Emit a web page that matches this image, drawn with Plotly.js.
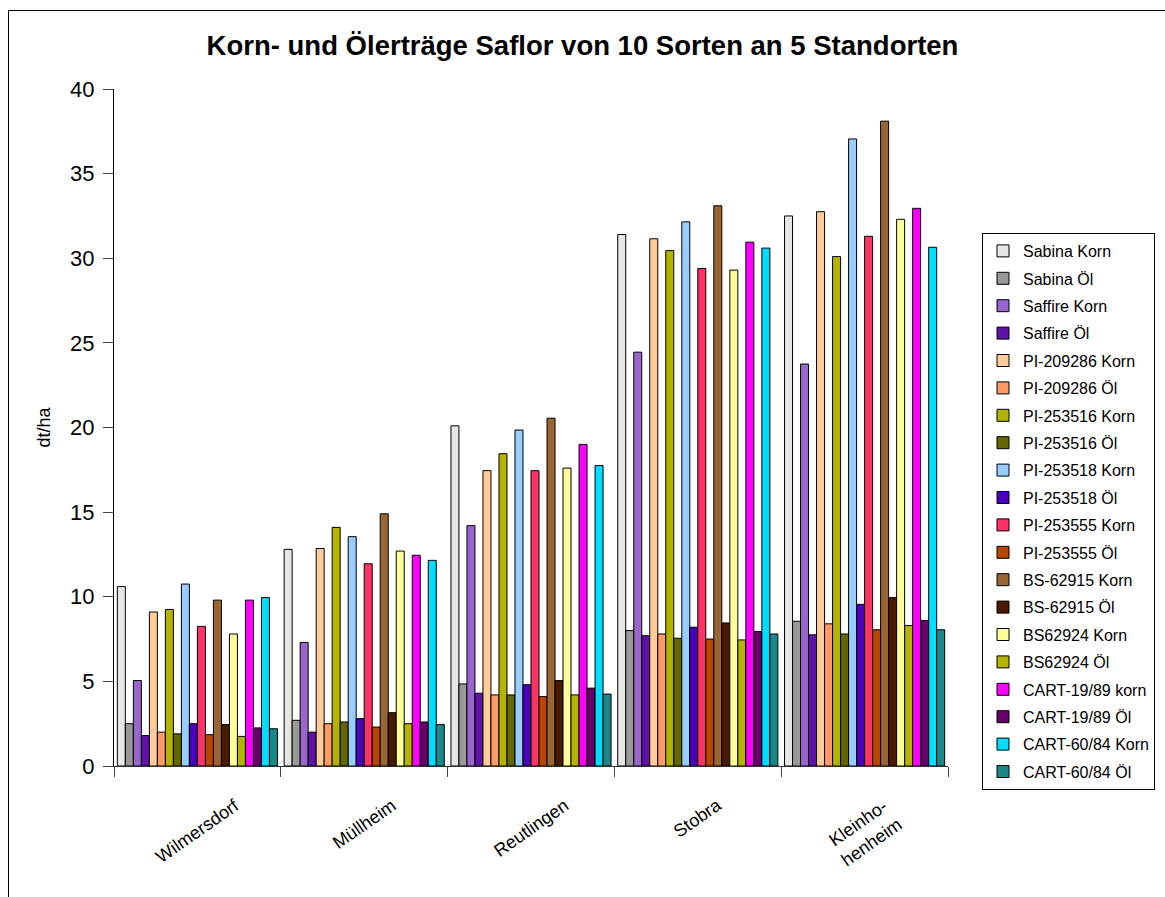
<!DOCTYPE html>
<html>
<head>
<meta charset="utf-8">
<script src="https://cdn.plot.ly/plotly-3.0.1.min.js"></script>
<style>
  html, body { margin: 0; padding: 0; background: #fff; overflow: hidden; }
  #wrap { position: relative; width: 1165px; height: 897px; }
  #frame { position: absolute; left: 8px; top: 10px; width: 1200px; height: 1000px;
           border-left: 1px solid #000; border-top: 1px solid #000; pointer-events: none; z-index: 5; }
</style>
</head>
<body>
<div id="wrap">
  <div id="chart"></div>
  <div id="frame"></div>
</div>
<script>
// Standorte (categories)
const sites = ["Wilmersdorf", "Müllheim", "Reutlingen", "Stobra", "Kleinhohenheim"];
const siteLabels = ["Wilmersdorf", "Müllheim", "Reutlingen", "Stobra", "Kleinho-<br>henheim"];

// Series values (dt/ha), order follows sites
const sabinaKorn    = [10.6, 12.8, 20.1, 31.4, 32.5];
const sabinaOel     = [2.5, 2.7, 4.85, 8.0, 8.55];
const saffireKorn   = [5.05, 7.3, 14.2, 24.45, 23.75];
const saffireOel    = [1.8, 2.0, 4.3, 7.7, 7.75];
const pi209286Korn  = [9.1, 12.85, 17.45, 31.15, 32.75];
const pi209286Oel   = [2.0, 2.5, 4.2, 7.8, 8.4];
const pi253516Korn  = [9.25, 14.1, 18.45, 30.45, 30.1];
const pi253516Oel   = [1.9, 2.6, 4.2, 7.55, 7.8];
const pi253518Korn  = [10.75, 13.55, 19.85, 32.15, 37.05];
const pi253518Oel   = [2.5, 2.8, 4.8, 8.2, 9.55];
const pi253555Korn  = [8.25, 11.95, 17.45, 29.4, 31.3];
const pi253555Oel   = [1.85, 2.3, 4.1, 7.5, 8.05];
const bs62915Korn   = [9.8, 14.9, 20.55, 33.1, 38.1];
const bs62915Oel    = [2.45, 3.15, 5.05, 8.45, 9.95];
const bs62924Korn   = [7.8, 12.7, 17.6, 29.3, 32.3];
const bs62924Oel    = [1.75, 2.5, 4.2, 7.45, 8.3];
const cart1989Korn  = [9.8, 12.45, 19.0, 30.95, 32.95];
const cart1989Oel   = [2.25, 2.6, 4.6, 7.95, 8.6];
const cart6084Korn  = [9.95, 12.15, 17.75, 30.6, 30.65];
const cart6084Oel   = [2.2, 2.45, 4.25, 7.8, 8.05];

// Series names
const seriesNames = [
  "Sabina Korn", "Sabina Öl", "Saffire Korn", "Saffire Öl",
  "PI-209286 Korn", "PI-209286 Öl", "PI-253516 Korn", "PI-253516 Öl",
  "PI-253518 Korn", "PI-253518 Öl", "PI-253555 Korn", "PI-253555 Öl",
  "BS-62915 Korn", "BS-62915 Öl", "BS62924 Korn", "BS62924 Öl",
  "CART-19/89 korn", "CART-19/89 Öl", "CART-60/84 Korn", "CART-60/84 Öl"
];
const seriesValues = [
  sabinaKorn, sabinaOel, saffireKorn, saffireOel,
  pi209286Korn, pi209286Oel, pi253516Korn, pi253516Oel,
  pi253518Korn, pi253518Oel, pi253555Korn, pi253555Oel,
  bs62915Korn, bs62915Oel, bs62924Korn, bs62924Oel,
  cart1989Korn, cart1989Oel, cart6084Korn, cart6084Oel
];
const seriesColors = [
  "#E6E6E6", "#999999", "#9966CC", "#5E12A8",
  "#FFCC99", "#FF9966", "#B3B300", "#666600",
  "#99CCFF", "#4A00BA", "#FF3366", "#B84500",
  "#996633", "#4A1A00", "#FFFF99", "#B3B300",
  "#FF00FF", "#660066", "#00DDFF", "#1A8888"
];

const FONT = "Liberation Sans, Arial, Helvetica, sans-serif";

const traces = seriesNames.map((name, i) => ({
  type: "bar",
  name: name,
  legendgroup: "g" + i,
  x: sites,
  y: seriesValues[i],
  marker: { color: seriesColors[i], line: { color: "#000", width: 1 } },
  hoverinfo: "x+y+name"
}));

const annotations = sites.map((s, i) => ({
  x: s, xref: "x",
  y: 0, yref: "paper",
  yshift: -26,
  xanchor: "center", yanchor: "top",
  text: siteLabels[i],
  textangle: -35,
  showarrow: false,
  align: "center",
  font: { family: FONT, size: 18, color: "#000" }
}));

const layout = {
  width: 1165, height: 897,
  paper_bgcolor: "#fff", plot_bgcolor: "rgba(0,0,0,0)",
  margin: { l: 114, r: 217, t: 89, b: 131, pad: 0 },
  font: { family: FONT, color: "#000" },
  title: {
    text: "<b>Korn- und Ölerträge Saflor von 10 Sorten an 5 Standorten</b>",
    font: { family: FONT, size: 27.5, color: "#000" },
    x: 0.5, xref: "container", y: 1 - 45 / 897, yref: "container", yanchor: "middle"
  },
  barmode: "group",
  bargap: 0.04,
  bargroupgap: 0,
  showlegend: true,
  legend: {
    xref: "container", yref: "container",
    x: 982 / 1165, xanchor: "left", y: 1 - 233 / 897, yanchor: "top",
    maxheight: 1,
    bordercolor: "#000", borderwidth: 1, bgcolor: "#fff",
    font: { family: FONT, size: 16, color: "#000" },
    tracegroupgap: 3.6,
    traceorder: "grouped"
  },
  xaxis: {
    type: "category",
    showticklabels: false,
    showline: true, linecolor: "#333", linewidth: 1,
    ticks: "outside", tickson: "boundaries", ticklen: 10, tickcolor: "#444", tickwidth: 1,
    showgrid: false, zeroline: false, fixedrange: true
  },
  yaxis: {
    range: [0, 40],
    dtick: 5, tick0: 0,
    showline: true, linecolor: "#000", linewidth: 1,
    ticks: "outside", ticklen: 10, tickcolor: "#444", tickwidth: 1,
    ticklabelstandoff: 4,
    tickfont: { family: FONT, size: 22, color: "#000" },
    showgrid: false, zeroline: false,
    title: { text: "dt/ha", font: { family: FONT, size: 18, color: "#000" }, standoff: 14 }
  },
  annotations: annotations
};

Plotly.newPlot("chart", traces, layout, { displayModeBar: false, staticPlot: true });
</script>
</body>
</html>
